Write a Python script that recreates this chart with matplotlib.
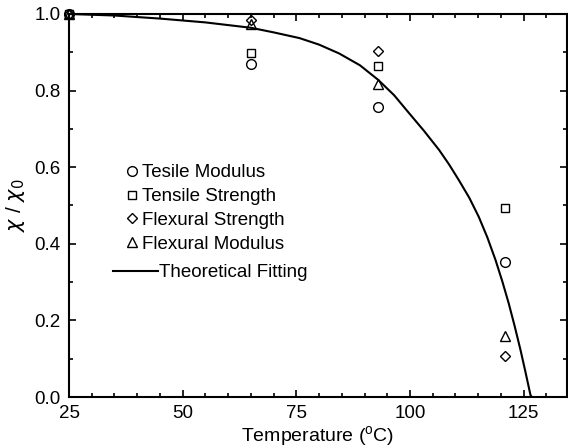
import numpy as np
import matplotlib
matplotlib.use('Agg')
import matplotlib.pyplot as plt
from matplotlib.ticker import MultipleLocator

plt.rcParams['font.family'] = ['Liberation Sans', 'DejaVu Sans']
plt.rcParams['mathtext.fontset'] = 'custom'
plt.rcParams['mathtext.rm'] = 'Liberation Sans'
plt.rcParams['mathtext.it'] = 'Liberation Sans'

# Temperature points of the measurements (deg C)
temps = [25, 65, 93, 121]

# Retention ratios chi / chi0 for each property
tesile_modulus    = [1.0, 0.869, 0.757, 0.353]
tensile_strength  = [1.0, 0.898, 0.864, 0.493]
flexural_strength = [1.0, 0.985, 0.903, 0.107]
flexural_modulus  = [1.0, 0.975, 0.817, 0.159]

# Theoretical fitting curve
fit_t = [25, 35, 45, 55, 65, 70, 75.7, 80, 84.4, 89, 93, 96.5, 99.8, 103,
         106.4, 108.6, 110.7, 113, 115.1, 117, 118.8, 120.3, 121.7, 123,
         124.3, 125.4, 126.5, 126.8]
fit_y = [1.0, 0.996, 0.988, 0.978, 0.964, 0.952, 0.937, 0.920, 0.897, 0.866,
         0.828, 0.788, 0.741, 0.696, 0.645, 0.607, 0.567, 0.521, 0.471, 0.417,
         0.358, 0.302, 0.245, 0.186, 0.123, 0.065, 0.005, 0.0]

fig = plt.figure(figsize=(5.68, 4.48), dpi=100)
ax = fig.add_axes([0.1215, 0.1138, 0.8765, 0.855])

mk = dict(linestyle='none', markerfacecolor='none', markeredgecolor='black',
          markeredgewidth=1.0, clip_on=False)
h1, = ax.plot(temps, tesile_modulus, marker='o', markersize=7, label='Tesile Modulus', **mk)
h2, = ax.plot(temps, tensile_strength, marker='s', markersize=6, label='Tensile Strength', **mk)
h3, = ax.plot(temps, flexural_strength, marker='D', markersize=5, label='Flexural Strength', **mk)
h4, = ax.plot(temps, flexural_modulus, marker='^', markersize=7, label='Flexural Modulus', **mk)
h5, = ax.plot(fit_t, fit_y, color='black', lw=1.5, label='Theoretical Fitting')

ax.set_xlim(25, 134.5)
ax.set_ylim(0, 1.0)
ax.xaxis.set_major_locator(MultipleLocator(25))
ax.xaxis.set_minor_locator(MultipleLocator(5))
ax.yaxis.set_major_locator(MultipleLocator(0.2))
ax.yaxis.set_minor_locator(MultipleLocator(0.1))
ax.yaxis.set_major_formatter(plt.FormatStrFormatter('%.1f'))

ax.tick_params(which='both', direction='in', top=True, right=True,
               labelsize=13.5, width=1.2)
ax.tick_params(which='major', length=5, pad=6)
ax.tick_params(which='minor', length=3)
for s in ax.spines.values():
    s.set_linewidth(1.5)

ax.set_xlabel(r'Temperature ($^{\mathrm{o}}$C)', fontsize=14, labelpad=1)
ax.set_ylabel(r'$\chi$ / $\chi_0$', fontsize=15, labelpad=5,
              math_fontfamily='dejavusans')

leg1 = ax.legend(handles=[h1, h2, h3, h4], loc='upper left',
                 bbox_to_anchor=(0.1175, 0.608), frameon=False, fontsize=13.5,
                 handlelength=0.5, handletextpad=0.25, labelspacing=0.36,
                 borderpad=0, borderaxespad=0)
ax.add_artist(leg1)
ax.legend(handles=[h5], loc='upper left', bbox_to_anchor=(0.0884, 0.347),
          frameon=False, fontsize=13.5, handlelength=2.4, handletextpad=0.05,
          borderpad=0, borderaxespad=0)

fig.savefig('out.png', dpi=100)
